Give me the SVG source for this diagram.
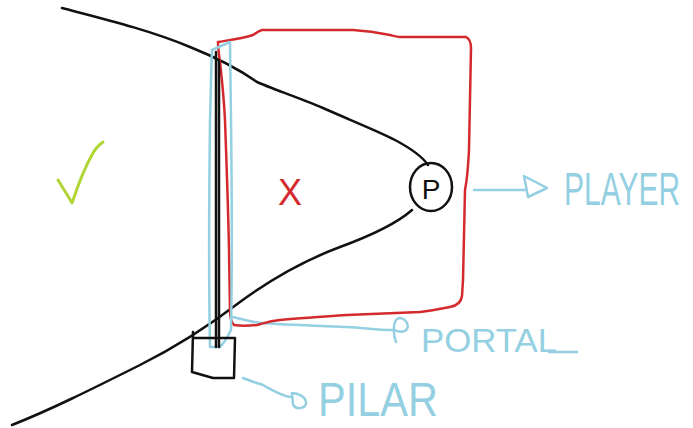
<svg xmlns="http://www.w3.org/2000/svg" width="693" height="428" viewBox="0 0 693 428">
<style>
.k{fill:none;stroke:#111;stroke-width:2.5;stroke-linecap:round;stroke-linejoin:round}
.r{fill:none;stroke:#d42a2e;stroke-width:2.5;stroke-linecap:round;stroke-linejoin:round}
.b{fill:none;stroke:#94d0e2;stroke-width:2.5;stroke-linecap:round;stroke-linejoin:round}
.lbl{font-family:"Liberation Sans",Arial,sans-serif;fill:#94d0e2}
</style>
<rect width="693" height="428" fill="#fff"/>
<g id="edges">
<path class="k" d="M62,8 C100,18 150,30 190,47 C215,57 240,70 257,82 C270,88 300,98 323,108 C350,120 380,132 395,140 C410,148 422,156 428,165"/>
<path class="k" d="M12,425 C50,410 90,390 140,365 C180,345 210,325 240,302 C270,280 300,262 340,247 C370,236 395,225 412,210"/>
<path class="b" d="M474,190 L527,190 M524,176 L547,188 L528,197 Z"/>
<path class="b" d="M233,317 C245,320 255,323 263,323 C290,325 320,326 347,327 C365,328 378,330 393,330 M396,342 C393,335 393,322 397,319 C402,316 410,322 407,329 C404,333 398,332 395,330"/>
<path class="b" d="M243,378 C250,381 257,383 263,385 C272,390 280,395 290,397 M292,393 C298,393 307,397 306,404 C304,409 295,410 293,404 Z"/>
</g>
<g id="region-x">
<path class="r" d="M218,42 C230,40 245,38 253,35 C256,33 258,31 262,30 L353,30 C368,31 380,33 390,35 C394,36 397,37 400,37 L466,37 C470,39 471,42 471,48 L469,150 C468,170 467,180 465,190 C465,200 464,240 463,280 L462,296 C461,303 456,306 450,307 C440,309 430,311 420,312 C395,313 370,314 347,315 C320,317 300,318 280,320 C268,321 262,324 257,325 C248,326 240,326 234,325 C231,322 230,318 230,310 L229,250 C228,200 226,150 225,120 C224,100 222,80 220,62 C219,55 218,48 218,42"/>
<text x="290" y="205" font-family="Liberation Sans, Arial, sans-serif" font-size="36" fill="#d42a2e" text-anchor="middle">X</text>
</g>
<g id="portal">
<path class="b" d="M212,50 L230,42 L231,120 C232,200 232,280 231,330 C228,336 224,343 220,347 L210,347 C209,300 209,200 210,120 C211,90 211,70 212,50 Z"/>
<text class="lbl" x="421" y="352" font-size="34" textLength="136" lengthAdjust="spacingAndGlyphs">PORTAL</text>
<path class="b" d="M549,352 L577,352"/>
</g>
<g id="pilar">
<path class="k" d="M216,52 L216,347 M219,60 L219,347"/>
<path class="k" d="M193,332 L193,338 L235,338 L234,378 L213,378 L192,372 Z"/>
<text class="lbl" x="318" y="416" font-size="48" textLength="120" lengthAdjust="spacingAndGlyphs">PILAR</text>
</g>
<g id="player">
<ellipse class="k" cx="431" cy="187" rx="21" ry="24"/>
<text x="431" y="199" font-family="Liberation Sans, Arial, sans-serif" font-size="28" fill="#111" text-anchor="middle">P</text>
<text class="lbl" transform="translate(564,205) scale(1,1.55)" x="0" y="0" font-size="30">PLAYER</text>
</g>
<g id="valid">
<path d="M58,180 C63,188 68,196 72,203 C78,185 86,165 93,153 C96,148 100,144 103,142" fill="none" stroke="#b0d636" stroke-width="3" stroke-linecap="round" stroke-linejoin="round"/>
</g>
</svg>
